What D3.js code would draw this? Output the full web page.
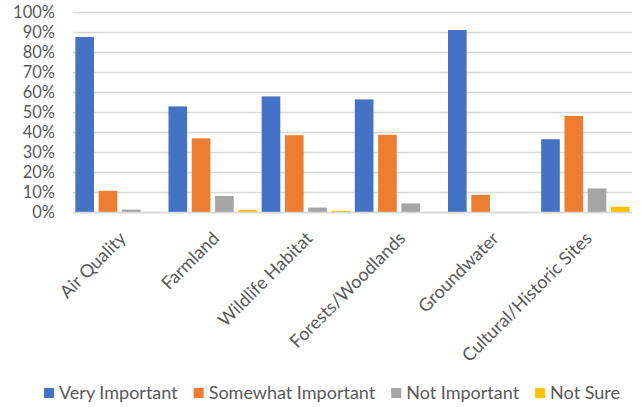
<!DOCTYPE html>
<html><head><meta charset="utf-8">
<script src="https://cdn.jsdelivr.net/npm/d3@7"></script>
<style>
body{margin:0;background:#fff;}
svg text{font-family:Lato,"Open Sans",sans-serif;fill:#595959;}
</style></head>
<body><svg id="c" width="641" height="407"></svg>
<script>
const categories = ["Air Quality","Farmland","Wildlife Habitat","Forests/Woodlands","Groundwater","Cultural/Historic Sites"];
const seriesNames = ["Very Important","Somewhat Important","Not Important","Not Sure"];
const seriesColors = ["#4472C4","#ED7D31","#A5A5A5","#FFC000"];
const veryImportant = [87.5, 52.8, 57.8, 56.3, 91.0, 36.4];
const somewhatImportant = [10.6, 36.8, 38.4, 38.6, 8.6, 48.0];
const notImportant = [1.2, 8.0, 2.2, 4.3, 0, 11.8];
const notSure = [0, 1.0, 0.6, 0, 0, 2.6];
const yTicks = [0,10,20,30,40,50,60,70,80,90,100];

const seriesValues = [veryImportant, somewhatImportant, notImportant, notSure];
const svg = d3.select("#c");
const m = {left:73, right:632, top:12, bottom:212};

const x = d3.scaleBand().domain(categories).range([m.left, m.right]).paddingInner(0).paddingOuter(0);
const xs = d3.scaleBand().domain(seriesNames).range([0, x.bandwidth()]).paddingInner(0.2).paddingOuter(0.1);
const y = d3.scaleLinear().domain([0,100]).range([m.bottom, m.top]);

// gridlines
svg.append("g").selectAll("line").data(yTicks).join("line")
  .attr("x1", m.left).attr("x2", m.right)
  .attr("y1", d=>y(d)+0.5).attr("y2", d=>y(d)+0.5)
  .attr("stroke","#D9D9D9").attr("stroke-width",1.5);

// y labels
svg.append("g").selectAll("text").data(yTicks).join("text")
  .attr("x", 55).attr("y", d=>y(d)).attr("dy","0.36em")
  .attr("text-anchor","end").attr("font-size",16.5)
  .text(d=>d+"%");

// bars
seriesValues.forEach((vals, si) => {
  svg.append("g").selectAll("rect").data(categories).join("rect")
    .attr("x", (c)=>x(c)+xs(seriesNames[si]))
    .attr("width", xs.bandwidth())
    .attr("y", (c,i)=>y(vals[i]))
    .attr("height", (c,i)=>y(0)-y(vals[i]))
    .attr("fill", seriesColors[si]);
});

// x axis line
svg.append("line").attr("x1",m.left).attr("x2",m.right)
  .attr("y1",m.bottom+0.5).attr("y2",m.bottom+0.5)
  .attr("stroke","#D9D9D9").attr("stroke-width",1.5);

// category labels
svg.append("g").selectAll("text").data(categories).join("text")
  .attr("transform", c=>`translate(${x(c)+x.bandwidth()/2-2},${m.bottom+18}) rotate(-45)`)
  .attr("text-anchor","end").attr("dy","0.75em").attr("font-size",18)
  .text(c=>c);

// legend
const lg = svg.append("g");
let cx = 0;
seriesNames.forEach((n,i)=>{
  const g = lg.append("g");
  g.append("rect").attr("x",0).attr("y",-11).attr("width",10).attr("height",10).attr("fill",seriesColors[i]);
  const t = g.append("text").attr("x",15).attr("y",0).attr("font-size",18).text(n);
  const w = 15 + t.node().getComputedTextLength();
  g.attr("transform",`translate(${cx},399)`);
  cx += w + 16;
});
const total = cx - 16;
lg.attr("transform",`translate(${332 - total/2},0)`);
</script></body></html>
